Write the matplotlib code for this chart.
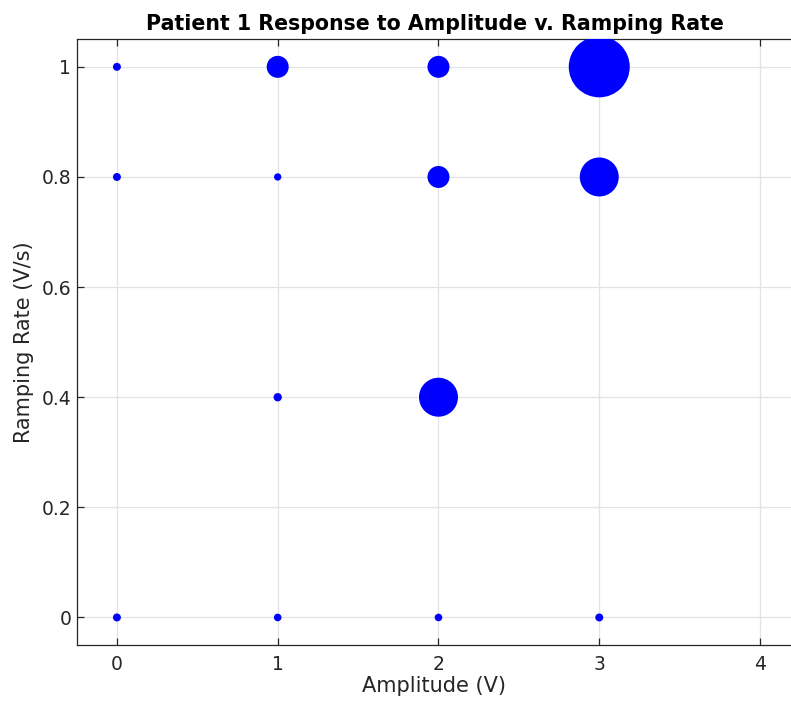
import numpy as np
import matplotlib
matplotlib.use('Agg')
import matplotlib.pyplot as plt

# amplitude (V), ramping rate (V/s) and response magnitude (marker area, pt^2)
amplitude = [0, 1, 2, 3, 0, 1, 2, 3, 1, 2, 0, 1, 2, 3]
ramp_rate = [0, 0, 0, 0, 0.8, 0.8, 0.8, 0.8, 0.4, 0.4, 1, 1, 1, 1]
response = [33, 30, 30, 33, 33, 28, 251, 788, 36, 788, 33, 251, 251, 1929]

x_ticks = [0, 1, 2, 3, 4]
y_ticks = [0, 0.2, 0.4, 0.6, 0.8, 1]
y_labels = ['0', '0.2', '0.4', '0.6', '0.8', '1']

fig = plt.figure(figsize=(7.91, 7.02), dpi=100)
# right edge of the box sits just past the figure border
ax = fig.add_axes([0.097, 0.0812, 0.9045, 0.8628])

ax.scatter(amplitude, ramp_rate, s=response, c='#0000ff', edgecolors='none', zorder=3)

ax.set_xlim(-0.25, 4.2)
ax.set_ylim(-0.05, 1.05)
ax.set_xticks(x_ticks)
ax.set_yticks(y_ticks)
ax.set_yticklabels(y_labels)

ax.grid(True, color='#e3e3e3', linewidth=0.9, zorder=0)
ax.set_axisbelow(True)

for sp in ax.spines.values():
    sp.set_color('#262626')
    sp.set_linewidth(0.9)
ax.spines['right'].set_visible(False)

ax.tick_params(direction='in', length=5, width=0.9, color='#262626',
               labelsize=13.5, labelcolor='#262626', top=True, right=False)
ax.tick_params(axis='y', pad=4)
ax.tick_params(axis='x', pad=7)

ax.set_xlabel('Amplitude (V)', fontsize=15, color='#262626', labelpad=2)
ax.set_ylabel('Ramping Rate (V/s)', fontsize=15, color='#262626', labelpad=5)
ax.set_title('Patient 1 Response to Amplitude v. Ramping Rate',
             fontsize=14.8, fontweight='bold', color='black', pad=7)

fig.savefig('out.png', dpi=100)
